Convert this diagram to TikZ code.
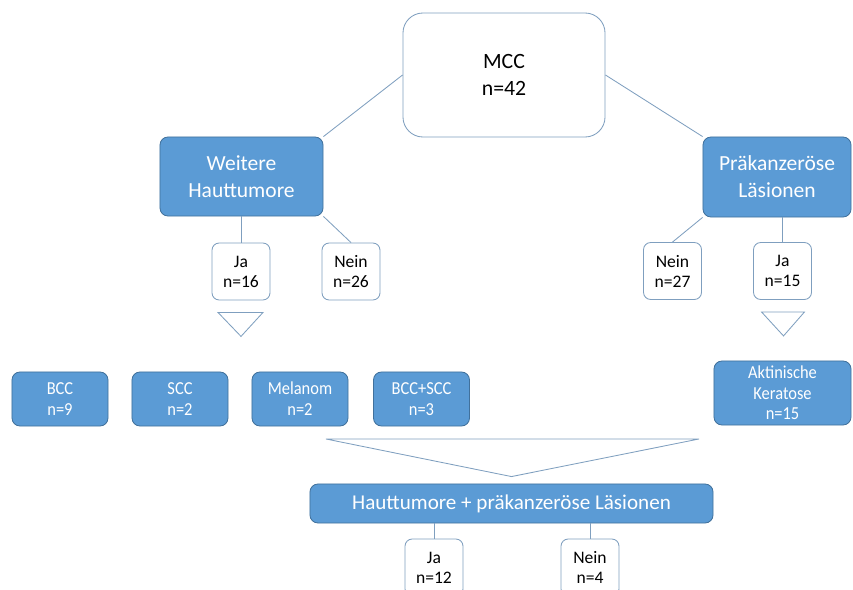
\documentclass[tikz,border=0pt]{standalone}
\usepackage{fontspec}
\setmainfont{Carlito}
\newfontfamily\narrowfont{Carlito}[FakeStretch=0.9]
\usetikzlibrary{calc}
\definecolor{boxblue}{HTML}{5B9BD5}
\definecolor{boxrim}{HTML}{41719C}
\definecolor{linegray}{HTML}{7F9FBF}

\begin{document}
\begin{tikzpicture}[x=0.025cm,y=-0.025cm,
    bluebox/.style={draw=boxrim,fill=boxblue,rounded corners=0.2cm,text=white,align=center,inner sep=0pt,line width=0.6pt},
    whitebox/.style={draw=linegray,fill=white,rounded corners=0.18cm,align=center,inner sep=0pt,line width=0.6pt,
      minimum width=1.45cm,minimum height=1.425cm,font=\fontsize{12.5}{14.2}\selectfont},
    smallbox/.style={bluebox,minimum width=2.4cm,minimum height=1.35cm,font=\narrowfont\fontsize{13}{15}\selectfont},
    link/.style={draw=linegray,line width=0.6pt}]
    \clip (0,0) rectangle (853,590);
    % Kopf
    \node [draw=linegray,fill=white,rounded corners=0.5cm,minimum width=5.05cm,minimum height=3.1cm,
      align=center,line width=0.6pt,font=\fontsize{15.5}{19.2}\selectfont] (mcc) at (504,75) {MCC\\n=42};
    \node [bluebox,minimum width=4.075cm,minimum height=1.975cm,font=\fontsize{15.3}{19.2}\selectfont] (weitere) at (241.5,176.5) {Weitere\\Hauttumore};
    \node [bluebox,minimum width=3.7cm,minimum height=2cm,font=\fontsize{15.3}{19.2}\selectfont] (prae) at (777,177) {Präkanzeröse\\Läsionen};
    % Ja / Nein
    \node [whitebox] (ja16) at (241,271.5) {Ja\\n=16};
    \node [whitebox] (nein26) at (351,271.5) {Nein\\n=26};
    \node [whitebox] (nein27) at (672.5,271) {Nein\\n=27};
    \node [whitebox] (ja15) at (782.5,271) {Ja\\n=15};
    % Tumorarten
    \node [smallbox] (bcc) at (60,399) {BCC\\n=9};
    \node [smallbox] (scc) at (180,399) {SCC\\n=2};
    \node [smallbox] (melanom) at (300,399) {Melanom\\n=2};
    \node [smallbox] (bccscc) at (421.5,399) {BCC+SCC\\n=3};
    \node [bluebox,minimum width=3.425cm,minimum height=1.6cm,font=\narrowfont\fontsize{13}{14.5}\selectfont] (ak) at (782.5,393) {Aktinische\\Keratose\\n=15};
    % Gesamt
    \node [bluebox,minimum width=10.075cm,minimum height=0.975cm,font=\fontsize{15}{18}\selectfont] (gesamt) at (511.5,503.5) {Hauttumore + präkanzeröse Läsionen};
    \node [whitebox] (ja12) at (434,567.5) {Ja\\n=12};
    \node [whitebox] (nein4) at (590,567.5) {Nein\\n=4};

    \draw [link] (mcc.west) -- (weitere.north east);
    \draw [link] (mcc.east) -- (prae.north west);
    \draw [link] (weitere.south -| ja16) -- (ja16.north);
    \draw [link] (weitere.south east) -- (nein26.north);
    \draw [link] (prae.south west) -- (nein27.north);
    \draw [link] (prae.south -| ja15) -- (ja15.north);
    \draw [link] (gesamt.south -| ja12) -- (ja12.north);
    \draw [link] (gesamt.south -| nein4) -- (nein4.north);

    % Dreiecke
    \draw [link] ($(ja16.south)+(-23,12)$) -- ++(45,0) -- ++(-22,24) -- cycle;
    \draw [link] ($(ja15.south)+(-21,12)$) -- ++(43,0) -- ++(-21,24) -- cycle;
    \draw [link] (326,439) -- (699,439) -- ($(gesamt.north)+(0,-7)$) -- cycle;
\end{tikzpicture}
\end{document}
